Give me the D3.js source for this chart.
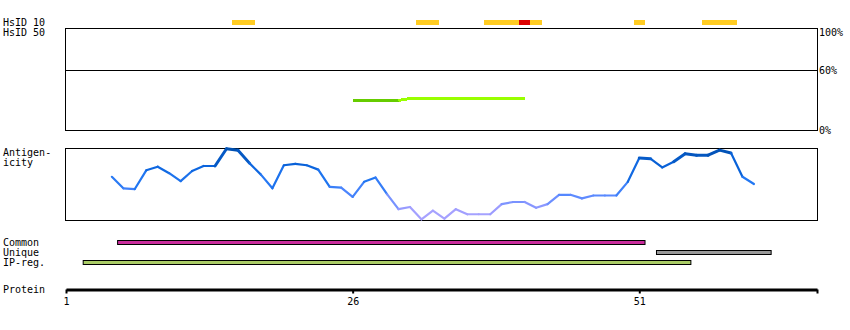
<!DOCTYPE html>
<html>
<head>
<meta charset="utf-8">
<script src="https://cdn.jsdelivr.net/npm/d3@7"></script>
<style>
  body { margin: 0; background: #fff; }
  text { font-family: "DejaVu Sans Mono", monospace; font-size: 10px; fill: #000; }
</style>
</head>
<body>
<svg id="chart" width="850" height="330"></svg>
<script>
// ---------- data ----------
const proteinLength = 66.5;
const proteinTicks = [1, 26, 51];

// HsID bars: residue ranges [from, to]
const hsid10Ranges = [[16, 17], [32, 33], [38, 42], [51, 51], [57, 59]];
const hsid50Ranges = [[41, 41]];

// identity line (% identity) per residue
const identityResidues = [26, 27, 28, 29, 30, 31, 32, 33, 34, 35, 36, 37, 38, 39, 40, 41];
const identityValues   = [30, 30, 30, 30, 30, 32, 32, 32, 32, 32, 32, 32, 32, 32, 32, 32];

// antigenicity per residue (relative score 0..1)
const antigenResidues = [5, 6, 7, 8, 9, 10, 11, 12, 13, 14, 15, 16, 17, 18, 19, 20, 21, 22, 23, 24, 25,
  26, 27, 28, 29, 30, 31, 32, 33, 34, 35, 36, 37, 38, 39, 40, 41, 42, 43, 44, 45, 46, 47, 48, 49, 50,
  51, 52, 53, 54, 55, 56, 57, 58, 59, 60, 61];
const antigenValues = [0.60, 0.44, 0.43, 0.69, 0.74, 0.65, 0.54, 0.68, 0.75, 0.75, 0.99, 0.97, 0.79, 0.63, 0.44,
  0.76, 0.78, 0.76, 0.70, 0.46, 0.45, 0.32, 0.53, 0.59, 0.36, 0.15, 0.18, 0.01, 0.13, 0.02, 0.15,
  0.08, 0.08, 0.08, 0.22, 0.25, 0.25, 0.17, 0.22, 0.35, 0.35, 0.30, 0.34, 0.34, 0.34, 0.53,
  0.86, 0.85, 0.73, 0.81, 0.92, 0.90, 0.90, 0.97, 0.93, 0.60, 0.50];

// region bars
const regionNames  = ["Common", "Unique", "IP-reg."];
const regionRanges = [[6, 51], [53, 62], [3, 55]];
const regionColors = ["#c92c9c", "#999999", "#aacc66"];

const percentTicks = [100, 60, 0];

// ---------- drawing ----------
const svg = d3.select("#chart");
svg.append("rect").attr("width", 850).attr("height", 330).attr("fill", "#fff");

const x = d3.scaleLinear().domain([1, proteinLength]).range([66, 817]);
const left = 65.5, right = 817.5;

// labels on the left
const labels = [
  ["HsID 10", 26], ["HsID 50", 36], ["Antigen-", 156], ["icity", 166],
  ["Common", 246], ["Unique", 256], ["IP-reg.", 266], ["Protein", 293]
];
svg.selectAll("text.lbl").data(labels).join("text")
  .attr("class", "lbl").attr("x", 3).attr("y", d => d[1]).text(d => d[0]);

// HsID bars
svg.selectAll("rect.h10").data(hsid10Ranges).join("rect")
  .attr("x", d => x(d[0] - 0.5)).attr("width", d => x(d[1] + 0.5) - x(d[0] - 0.5))
  .attr("y", 20).attr("height", 5).attr("fill", "#ffcc22").attr("shape-rendering", "crispEdges");
svg.selectAll("rect.h50").data(hsid50Ranges).join("rect")
  .attr("x", d => x(d[0] - 0.5)).attr("width", d => x(d[1] + 0.5) - x(d[0] - 0.5))
  .attr("y", 20).attr("height", 5).attr("fill", "#dd0000").attr("shape-rendering", "crispEdges");

// identity panel
const yP = d3.scaleLinear().domain([0, 100]).range([130.5, 30.5]);
svg.append("rect").attr("x", left).attr("y", 28.5).attr("width", right - left).attr("height", 102)
  .attr("fill", "none").attr("stroke", "#000");
svg.append("line").attr("x1", left).attr("x2", right).attr("y1", yP(60)).attr("y2", yP(60))
  .attr("stroke", "#000");
svg.selectAll("text.pct").data(percentTicks).join("text")
  .attr("class", "pct").attr("x", 819)
  .attr("y", d => Math.max(yP(d) + 3.5, 36)).text(d => d + "%");

const idPts = identityResidues.map((r, i) => [r, identityValues[i]]);
const idSegs = d3.pairs(idPts);
svg.selectAll("line.id").data(idSegs).join("line")
  .attr("x1", d => x(d[0][0])).attr("y1", d => yP(d[0][1]))
  .attr("x2", d => x(d[1][0])).attr("y2", d => yP(d[1][1]))
  .attr("stroke", d => d[1][1] > 31 ? "#99ff00" : "#66cc00")
  .attr("stroke-width", 3).attr("shape-rendering", "crispEdges");

// antigenicity panel
const yA = d3.scaleLinear().domain([0, 1]).range([220, 148]);
svg.append("rect").attr("x", left).attr("y", 148.5).attr("width", right - left).attr("height", 72)
  .attr("fill", "none").attr("stroke", "#000");
const colA = d3.scaleLinear()
  .domain([0, 0.15, 0.35, 0.55, 0.75, 1.0])
  .range(["#b0a8ff", "#9c9cff", "#5588ff", "#2277f2", "#0a63dc", "#004fae"]);
const agPts = antigenResidues.map((r, i) => [r, antigenValues[i]]);
const agSegs = d3.pairs(agPts);
svg.selectAll("line.ag").data(agSegs).join("line")
  .attr("x1", d => x(d[0][0])).attr("y1", d => yA(d[0][1]))
  .attr("x2", d => x(d[1][0])).attr("y2", d => yA(d[1][1]))
  .attr("stroke", d => colA((d[0][1] + d[1][1]) / 2))
  .attr("stroke-width", d => ((d[0][1] + d[1][1]) / 2) > 0.84 ? 3 : 2.2)
  .attr("stroke-linecap", "round");

// region bars
const rowY = [240.5, 250.5, 260.5];
svg.selectAll("rect.reg").data(regionRanges).join("rect")
  .attr("x", d => x(d[0] - 0.5)).attr("width", d => x(d[1] + 0.5) - x(d[0] - 0.5))
  .attr("y", (d, i) => rowY[i]).attr("height", 4)
  .attr("fill", (d, i) => regionColors[i]).attr("stroke", "#000").attr("stroke-width", 1);

// protein axis
const axis = d3.axisBottom(x)
  .tickValues(proteinTicks.concat([proteinLength]))
  .tickFormat(d => proteinTicks.includes(d) ? String(d) : "")
  .tickSizeInner(4).tickSizeOuter(0).tickPadding(4);
const gAx = svg.append("g").attr("transform", "translate(0,289.5)").call(axis);
gAx.select(".domain").attr("stroke", "#000").attr("stroke-width", 3);
gAx.selectAll(".tick line").attr("stroke", "#000").attr("stroke-width", 2);
gAx.selectAll(".tick text")
  .attr("font-family", "DejaVu Sans Mono, monospace").attr("font-size", 10).attr("fill", "#000");
</script>
</body>
</html>
